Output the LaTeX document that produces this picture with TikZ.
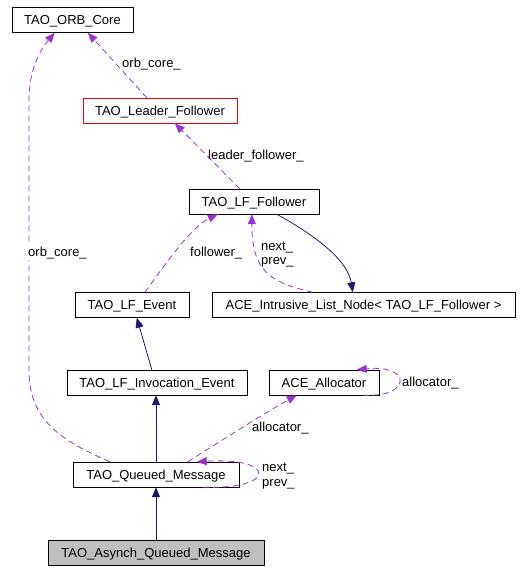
\documentclass[tikz,border=0pt]{standalone}
\usepackage{fontspec}
\setmainfont{Liberation Sans}
\usetikzlibrary{arrows.meta}
\definecolor{depcol}{HTML}{9A32CD}
\definecolor{inhcol}{HTML}{191970}
\definecolor{curcol}{HTML}{BFBFBF}
\begin{document}
\begin{tikzpicture}[x=1pt,y=-1pt,
		cls/.style={draw,minimum height=25pt,inner sep=0pt,text height=12pt,text depth=3pt,font=\fontsize{13}{15}\selectfont},
		lbl/.style={anchor=west,inner sep=0pt,text height=12pt,text depth=3pt,font=\fontsize{13}{15}\selectfont},
		use/.style={draw=depcol,dash pattern=on 6pt off 4pt,line width=0.8pt,-{Triangle[length=10pt,width=8pt,fill=depcol]}},
		isa/.style={draw=inhcol,line width=0.8pt,-{Triangle[length=10pt,width=8pt,fill=inhcol]}}]
			\useasboundingbox (0,0) rectangle (520,571);
			\node[cls,minimum width=121pt] (orb) at (72.5,20) {TAO\_ORB\_Core};
			\node[cls,draw=red,minimum width=154pt] (lf) at (160,110.5) {TAO\_Leader\_Follower};
			\node[cls,minimum width=130pt] (follower) at (254,201.5) {TAO\_LF\_Follower};
			\node[cls,minimum width=303pt] (listnode) at (363.5,305) {ACE\_Intrusive\_List\_Node< TAO\_LF\_Follower >};
			\node[cls,minimum width=114pt] (event) at (132,305) {TAO\_LF\_Event};
			\node[cls,minimum width=180pt] (invoc) at (157,382.5) {TAO\_LF\_Invocation\_Event};
			\node[cls,minimum width=110pt] (alloc) at (324,382.5) {ACE\_Allocator};
			\node[cls,minimum width=166pt] (queued) at (156,474.5) {TAO\_Queued\_Message};
			\node[cls,fill=curcol,minimum width=216pt] (asynch) at (156,553) {TAO\_Asynch\_Queued\_Message};
			% members
			\draw[use] ([xshift=64pt]lf.north west) -- ([xshift=76pt]orb.south west);
			\node[lbl] (l1) at (122,63) {orb\_core\_};
			\draw[use] ([xshift=51pt]follower.north west) -- ([xshift=92pt]lf.south west);
			\node[lbl] (l2) at (208,155) {leader\_follower\_};
			\draw[use] ([xshift=70pt]event.north west) .. controls (165,265) and (190,228) .. ([xshift=29pt]follower.south west);
			\node[lbl] (l3) at (190,252) {follower\_};
			\draw[use] ([xshift=101pt]listnode.north west) .. controls (268,282) and (252,270) .. ([xshift=63pt]follower.south west);
			\node[lbl] (l4) at (261,246) {next\_};
			\node[lbl] (l5) at (261,260) {prev\_};
			\draw[use] ([xshift=115pt]queued.north west) .. controls (230,435) and (270,410) .. ([xshift=28pt]alloc.south west);
			\node[lbl] (l6) at (252,427) {allocator\_};
			\draw[use] ([xshift=94pt]alloc.south west) .. controls (412,398) and (412,364) .. ([xshift=88pt]alloc.north west);
			\node[lbl] (l7) at (402,382) {allocator\_};
			\draw[use] ([xshift=130pt]queued.south west) .. controls (277,490) and (277,457) .. ([xshift=124pt]queued.north west);
			\node[lbl] (l8) at (262,467) {next\_};
			\node[lbl] (l9) at (262,482) {prev\_};
			\draw[use] ([xshift=37pt]queued.north west) .. controls (60,440) and (29,420) .. (29,370) -- (29,100) .. controls (29,70) and (40,50) .. ([xshift=43pt]orb.south west);
			\node[lbl,fill=white] (l10) at (28,252) {orb\_core\_};
			% bases
			\draw[isa] ([xshift=88pt]follower.south west) .. controls (320,238) and (348,262) .. ([xshift=141pt]listnode.north west);
			\draw[isa] ([xshift=85pt]invoc.north west) -- ([xshift=62pt]event.south west);
			\draw[isa] (queued.north) -- (queued.north |- invoc.south);
			\draw[isa] (asynch.north) -- (queued.south);
		\end{tikzpicture}
\end{document}
